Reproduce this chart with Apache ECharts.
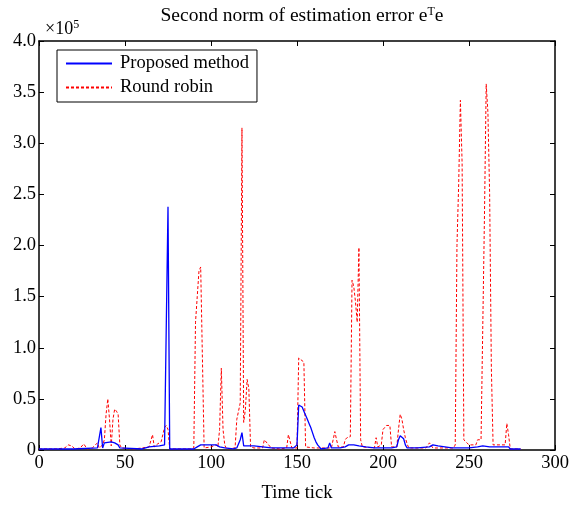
<!DOCTYPE html>
<html><head><meta charset="utf-8">
<script src="https://cdn.jsdelivr.net/npm/echarts@6/dist/echarts.min.js"></script>
<style>html,body{margin:0;padding:0;background:#fff}#c{width:581px;height:508px}</style>
</head><body><div id="c"></div>
<script>
// values in units of 1e5
var proposedMethod = [[0,0.01],[20,0.01],[34,0.02],[35,0.03],[36,0.22],[37,0.02],[38,0.07],[39,0.08],[42,0.08],[44,0.07],[46,0.05],[47,0.02],[48,0.01],[60,0.01],[64,0.03],[70,0.04],[73,0.05],[74,0.05],[75,2.38],[76,0.01],[80,0.01],[90,0.01],[92,0.03],[94,0.05],[100,0.05],[103,0.05],[105,0.03],[108,0.02],[113,0.01],[115,0.02],[117,0.1],[118,0.17],[119,0.04],[122,0.04],[125,0.04],[130,0.03],[135,0.02],[140,0.02],[148,0.02],[149,0.02],[150,0.05],[151,0.44],[152,0.44],[153,0.42],[154,0.38],[155,0.34],[156,0.3],[157,0.26],[158,0.22],[159,0.17],[160,0.12],[161,0.08],[162,0.05],[163,0.03],[164,0.01],[168,0.02],[169,0.07],[170,0.02],[175,0.02],[178,0.03],[180,0.05],[183,0.05],[186,0.04],[190,0.03],[195,0.02],[205,0.02],[208,0.03],[209,0.1],[210,0.14],[211,0.13],[212,0.11],[213,0.05],[214,0.02],[220,0.02],[227,0.03],[229,0.05],[232,0.04],[240,0.02],[250,0.02],[255,0.03],[258,0.04],[262,0.03],[270,0.03],[273,0.03],[274,0.01],[280,0.01]];
var roundRobin = [[0,0.01],[10,0.01],[15,0.02],[17,0.05],[19,0.04],[21,0.01],[24,0.02],[26,0.06],[28,0.01],[31,0.02],[34,0.07],[35,0.02],[37,0.05],[38,0.1],[39,0.35],[40,0.5],[41,0.3],[42,0.04],[43,0.3],[44,0.4],[45,0.38],[46,0.35],[47,0.05],[48,0.02],[55,0.01],[60,0.02],[64,0.03],[66,0.15],[67,0.03],[69,0.06],[71,0.08],[73,0.22],[74,0.24],[75,0.2],[76,0.01],[80,0.01],[88,0.01],[90,0.02],[91,1.25],[92,1.5],[93,1.75],[94,1.79],[96,0.02],[100,0.03],[103,0.05],[104,0.03],[105,0.2],[106,0.8],[107,0.2],[108,0.05],[109,0.01],[114,0.02],[115,0.3],[117,0.46],[118,3.15],[119,0.27],[120,0.4],[121,0.69],[122,0.6],[123,0.03],[125,0.02],[130,0.02],[131,0.1],[133,0.06],[135,0.02],[140,0.01],[144,0.02],[145,0.15],[146,0.16],[147,0.02],[150,0.02],[151,0.9],[152,0.9],[154,0.86],[155,0.03],[160,0.02],[170,0.02],[171,0.1],[172,0.18],[173,0.1],[174,0.03],[177,0.03],[178,0.1],[179,0.12],[181,0.13],[182,1.66],[183,1.6],[184,1.45],[185,1.25],[186,1.98],[187,0.1],[188,0.03],[195,0.02],[196,0.12],[197,0.03],[199,0.05],[200,0.2],[202,0.24],[203,0.25],[204,0.24],[205,0.03],[208,0.03],[209,0.2],[210,0.35],[211,0.3],[212,0.2],[213,0.12],[214,0.06],[215,0.02],[225,0.02],[227,0.07],[229,0.02],[241,0.02],[242,0.05],[243,2.0],[244,2.6],[245,3.42],[246,2.8],[247,0.1],[250,0.05],[254,0.05],[255,0.1],[257,0.1],[258,0.1],[259,2.3],[260,3.58],[261,3.3],[262,2.5],[263,0.8],[264,0.05],[271,0.05],[272,0.26],[273,0.15],[274,0.01],[280,0.01]];
var seriesNames = ['Proposed method', 'Round robin'];
var xTicks = {min: 0, max: 300, interval: 50};
var yTicks = {min: 0, max: 4, interval: 0.5};

var FONT = '"Liberation Serif", "Times New Roman", serif';
var chart = echarts.init(document.getElementById('c'), null, {renderer: 'canvas'});
function axisCommon() {
  return {
    axisLine: {show: true, onZero: false, lineStyle: {color: '#000', width: 1.5}},
    axisTick: {show: true, inside: true, length: 5, lineStyle: {color: '#000', width: 1}},
    splitLine: {show: false}
  };
}
chart.setOption({
  animation: false,
  backgroundColor: '#fff',
  title: {
    text: 'Second norm of estimation error e{sup|T}e',
    left: 297, top: 1, textAlign: 'center',
    textStyle: {fontFamily: FONT, fontSize: 19.5, fontWeight: 'normal', color: '#000',
      rich: {sup: {fontFamily: FONT, fontSize: 12, verticalAlign: 'top', padding: [0,0,8,0], color: '#000'}}}
  },
  graphic: [{
    type: 'text', left: 45, top: 19,
    style: {text: '×10{s|5}', fontFamily: FONT, fontSize: 18, fill: '#000',
      rich: {s: {fontFamily: FONT, fontSize: 12, verticalAlign: 'top', padding: [0,0,8,0]}}}
  }],
  legend: {
    left: 57, top: 50, orient: 'vertical',
    data: seriesNames,
    itemWidth: 46, itemHeight: 14, itemGap: 5,
    padding: [4, 8, 5, 8],
    borderColor: '#000', borderWidth: 1, borderRadius: 0,
    backgroundColor: '#fff',
    itemStyle: {opacity: 0},
    textStyle: {fontFamily: FONT, fontSize: 18.5, color: '#000', padding: [0, 0, 0, 3]}
  },
  grid: {left: 39, top: 41, right: 26, bottom: 50, containLabel: false},
  xAxis: [
    Object.assign({type: 'value', position: 'bottom', min: xTicks.min, max: xTicks.max, interval: xTicks.interval,
      name: 'Time tick', nameLocation: 'middle', nameGap: 34,
      nameTextStyle: {fontFamily: FONT, fontSize: 18.5, color: '#000'},
      axisLabel: {fontFamily: FONT, fontSize: 18.5, color: '#000', margin: 4}}, axisCommon()),
    Object.assign({type: 'value', position: 'top', min: xTicks.min, max: xTicks.max, interval: xTicks.interval,
      axisLabel: {show: false}}, axisCommon())
  ],
  yAxis: [
    Object.assign({type: 'value', position: 'left', min: yTicks.min, max: yTicks.max, interval: yTicks.interval,
      axisLabel: {fontFamily: FONT, fontSize: 18.5, color: '#000', margin: 3,
        formatter: function (v) { return v === 0 ? '0' : v.toFixed(1); }}}, axisCommon()),
    Object.assign({type: 'value', position: 'right', min: yTicks.min, max: yTicks.max, interval: yTicks.interval,
      axisLabel: {show: false}}, axisCommon())
  ],
  series: [
    {name: seriesNames[0], type: 'line', data: proposedMethod, symbol: 'none', showSymbol: false, z: 3,
      lineStyle: {color: '#0000ff', width: 1.3}, itemStyle: {color: '#0000ff'}},
    {name: seriesNames[1], type: 'line', data: roundRobin, symbol: 'none', showSymbol: false, z: 2,
      lineStyle: {color: '#ff0000', width: 1, type: [3, 2]}, itemStyle: {color: '#ff0000'}}
  ]
});
</script></body></html>
